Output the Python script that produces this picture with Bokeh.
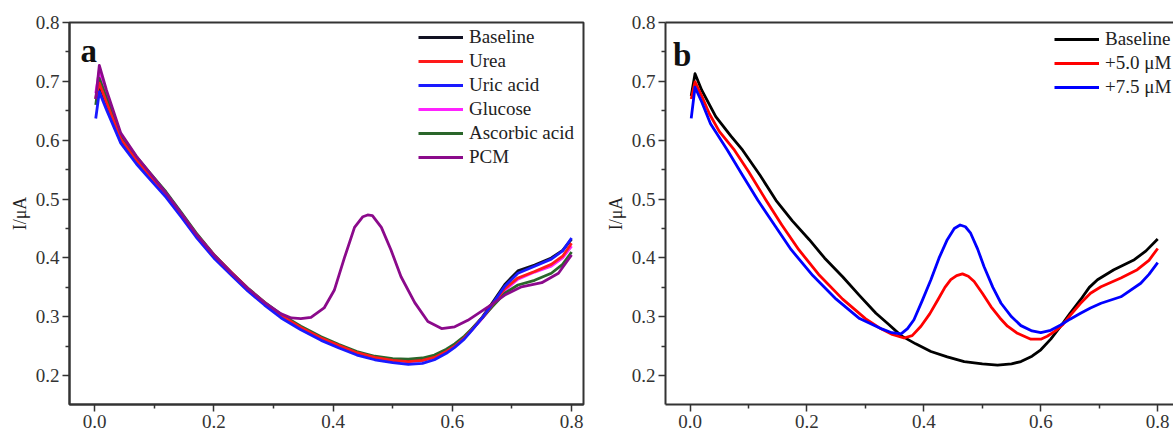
from bokeh.plotting import figure
from bokeh.layouts import row
from bokeh.models import Legend, LegendItem, Label, LinearAxis, FixedTicker, Range1d, PrintfTickFormatter
from bokeh.embed import file_html
from bokeh.resources import INLINE

# ---------------- data: panel a (interference study) ----------------
xa = [0.002, 0.008, 0.02, 0.044, 0.07, 0.09, 0.12, 0.145, 0.17, 0.2, 0.23, 0.257, 0.285, 0.313,
      0.346, 0.38, 0.41, 0.44, 0.47, 0.5, 0.526, 0.55, 0.57, 0.59, 0.604, 0.62, 0.632, 0.65,
      0.666, 0.688, 0.71, 0.738, 0.766, 0.785, 0.80]
baseline_a = [0.670, 0.692, 0.662, 0.600, 0.564, 0.541, 0.506, 0.473, 0.439, 0.403, 0.373, 0.347,
              0.323, 0.301, 0.281, 0.264, 0.251, 0.239, 0.231, 0.227, 0.225, 0.227, 0.232, 0.242,
              0.251, 0.265, 0.278, 0.299, 0.322, 0.355, 0.378, 0.388, 0.400, 0.413, 0.432]
urea_a = [0.672, 0.697, 0.664, 0.602, 0.566, 0.543, 0.508, 0.475, 0.441, 0.405, 0.375, 0.348,
          0.324, 0.302, 0.282, 0.264, 0.251, 0.239, 0.231, 0.226, 0.224, 0.226, 0.231, 0.241,
          0.250, 0.264, 0.277, 0.298, 0.319, 0.348, 0.366, 0.377, 0.389, 0.403, 0.425]
uric_a = [0.637, 0.682, 0.652, 0.595, 0.560, 0.537, 0.503, 0.470, 0.436, 0.400, 0.370, 0.344,
          0.320, 0.298, 0.278, 0.260, 0.247, 0.235, 0.227, 0.222, 0.219, 0.221, 0.227, 0.238,
          0.248, 0.262, 0.276, 0.298, 0.320, 0.352, 0.374, 0.386, 0.398, 0.412, 0.434]
glucose_a = [0.680, 0.718, 0.672, 0.606, 0.569, 0.545, 0.509, 0.476, 0.441, 0.405, 0.374, 0.348,
             0.324, 0.302, 0.282, 0.264, 0.251, 0.239, 0.231, 0.226, 0.224, 0.226, 0.232, 0.242,
             0.251, 0.265, 0.277, 0.297, 0.317, 0.345, 0.364, 0.376, 0.386, 0.400, 0.420]
ascorbic_a = [0.660, 0.705, 0.672, 0.608, 0.572, 0.548, 0.512, 0.478, 0.443, 0.406, 0.375, 0.349,
              0.325, 0.304, 0.284, 0.266, 0.253, 0.241, 0.233, 0.229, 0.228, 0.230, 0.235, 0.245,
              0.254, 0.267, 0.279, 0.298, 0.316, 0.340, 0.354, 0.362, 0.374, 0.389, 0.410]
xa_pcm = [0.002, 0.008, 0.02, 0.044, 0.07, 0.09, 0.12, 0.145, 0.17, 0.2, 0.23, 0.257, 0.285, 0.313,
          0.33, 0.346, 0.363, 0.385, 0.402, 0.419, 0.436, 0.45, 0.458, 0.466, 0.481, 0.497, 0.514,
          0.537, 0.559, 0.582, 0.604, 0.626, 0.66, 0.688, 0.716, 0.75, 0.778, 0.80]
pcm_a = [0.670, 0.727, 0.685, 0.612, 0.573, 0.548, 0.510, 0.476, 0.441, 0.405, 0.374, 0.348,
         0.324, 0.305, 0.298, 0.297, 0.299, 0.315, 0.345, 0.400, 0.452, 0.470, 0.473, 0.472,
         0.452, 0.414, 0.368, 0.324, 0.292, 0.280, 0.283, 0.294, 0.317, 0.337, 0.351, 0.358,
         0.374, 0.405]

# ---------------- data: panel b (PCM additions) ----------------
xb_base = [0.002, 0.0085, 0.02, 0.044, 0.07, 0.09, 0.12, 0.147, 0.175, 0.204, 0.23, 0.261, 0.29,
           0.318, 0.34, 0.361, 0.386, 0.412, 0.44, 0.469, 0.5, 0.526, 0.55, 0.566, 0.585, 0.60,
           0.617, 0.634, 0.65, 0.668, 0.683, 0.697, 0.725, 0.76, 0.78, 0.80]
baseline_b = [0.675, 0.713, 0.685, 0.640, 0.607, 0.583, 0.540, 0.498, 0.463, 0.431, 0.400, 0.368,
              0.336, 0.306, 0.287, 0.268, 0.254, 0.241, 0.232, 0.224, 0.220, 0.218, 0.220, 0.224,
              0.233, 0.244, 0.262, 0.284, 0.306, 0.329, 0.350, 0.363, 0.380, 0.397, 0.412, 0.432]
xb_5 = [0.002, 0.0085, 0.02, 0.033, 0.05, 0.076, 0.10, 0.13, 0.157, 0.186, 0.22, 0.261, 0.30,
        0.326, 0.346, 0.366, 0.38, 0.395, 0.41, 0.424, 0.436, 0.446, 0.456, 0.466, 0.476, 0.486,
        0.50, 0.515, 0.53, 0.543, 0.56, 0.583, 0.60, 0.611, 0.625, 0.637, 0.65, 0.668, 0.685,
        0.703, 0.737, 0.765, 0.785, 0.80]
pcm5_b = [0.670, 0.699, 0.675, 0.645, 0.615, 0.583, 0.547, 0.498, 0.456, 0.414, 0.372, 0.330,
          0.297, 0.280, 0.270, 0.264, 0.268, 0.284, 0.305, 0.329, 0.350, 0.363, 0.370, 0.373,
          0.369, 0.360, 0.340, 0.317, 0.298, 0.284, 0.272, 0.262, 0.262, 0.267, 0.276, 0.286,
          0.302, 0.323, 0.340, 0.351, 0.366, 0.380, 0.396, 0.416]
xb_75 = [0.002, 0.0085, 0.02, 0.035, 0.064, 0.09, 0.116, 0.145, 0.173, 0.21, 0.25, 0.29, 0.329,
         0.345, 0.361, 0.372, 0.383, 0.397, 0.412, 0.426, 0.44, 0.452, 0.462, 0.471, 0.48, 0.492,
         0.503, 0.518, 0.532, 0.55, 0.566, 0.585, 0.60, 0.617, 0.634, 0.65, 0.668, 0.685, 0.703,
         0.737, 0.771, 0.785, 0.80]
pcm75_b = [0.637, 0.690, 0.665, 0.628, 0.583, 0.540, 0.498, 0.455, 0.414, 0.370, 0.330, 0.297,
           0.279, 0.273, 0.271, 0.280, 0.295, 0.327, 0.363, 0.400, 0.431, 0.450, 0.456, 0.453,
           0.442, 0.415, 0.385, 0.350, 0.323, 0.300, 0.285, 0.276, 0.273, 0.277, 0.286, 0.296,
           0.306, 0.315, 0.323, 0.334, 0.357, 0.372, 0.392]

x_ticks = [0.0, 0.2, 0.4, 0.6, 0.8]
x_minor = [0.1, 0.3, 0.5, 0.7]
y_ticks = [0.2, 0.3, 0.4, 0.5, 0.6, 0.7, 0.8]
y_minor = [0.25, 0.35, 0.45, 0.55, 0.65, 0.75]

SERIF = "Liberation Serif"
AX = "#333333"
H = 436


def make_fig(width, border_left, border_right, x_end):
    p = figure(width=width, height=H, output_backend="svg", toolbar_location=None,
               x_range=Range1d(-0.042, x_end), y_range=Range1d(0.151, 0.8),
               min_border_left=border_left, min_border_right=border_right,
               min_border_top=22, min_border_bottom=32)
    p.grid.visible = False
    p.background_fill_color = "white"
    p.border_fill_color = "white"
    p.xaxis.ticker = FixedTicker(ticks=x_ticks, minor_ticks=x_minor)
    p.yaxis.ticker = FixedTicker(ticks=y_ticks, minor_ticks=y_minor)
    for ax in (p.xaxis[0], p.yaxis[0]):
        ax.formatter = PrintfTickFormatter(format="%.1f")
        ax.axis_line_color = AX
        ax.axis_line_width = 2
        ax.major_tick_line_color = AX
        ax.major_tick_line_width = 1.5
        ax.minor_tick_line_color = AX
        ax.minor_tick_line_width = 1.5
        ax.major_tick_in = 0
        ax.major_tick_out = 7
        ax.minor_tick_in = 0
        ax.minor_tick_out = 4
        ax.major_label_text_font = SERIF
        ax.major_label_text_font_size = "19px"
        ax.major_label_text_color = AX
        ax.major_label_standoff = 3
    p.yaxis.axis_label = "I/μA"
    p.yaxis.axis_label_text_font = SERIF
    p.yaxis.axis_label_text_font_size = "18px"
    p.yaxis.axis_label_text_font_style = "normal"
    p.yaxis.axis_label_text_color = "#222222"
    p.yaxis.axis_label_standoff = 3
    return p


def legend_for(p, items, loc):
    lg = Legend(items=items, location=loc, padding=0, margin=0, spacing=2,
                glyph_width=45, glyph_height=22, label_height=22, label_standoff=6,
                border_line_color=None, background_fill_alpha=0,
                label_text_font=SERIF, label_text_font_size="19px", label_text_color="#222222")
    p.add_layout(lg)


LW = 2.8

# ---------------- panel a ----------------
pa = make_fig(590, 69, 7, 0.82)
pa.outline_line_color = AX
pa.outline_line_width = 2
pa.outline_line_alpha = 1

r_glu = pa.line(xa, glucose_a, line_color="#ff22ff", line_width=LW, line_join="round")
r_base = pa.line(xa, baseline_a, line_color="#111122", line_width=LW, line_join="round")
r_asc = pa.line(xa, ascorbic_a, line_color="#2a662a", line_width=LW, line_join="round")
r_urea = pa.line(xa, urea_a, line_color="#ff1a1a", line_width=LW, line_join="round")
r_uric = pa.line(xa, uric_a, line_color="#1a1aff", line_width=LW, line_join="round")
r_pcm = pa.line(xa_pcm, pcm_a, line_color="#8b0a8b", line_width=LW, line_join="round")

legend_for(pa, [LegendItem(label="Baseline", renderers=[r_base]),
                LegendItem(label="Urea", renderers=[r_urea]),
                LegendItem(label="Uric acid", renderers=[r_uric]),
                LegendItem(label="Glucose", renderers=[r_glu]),
                LegendItem(label="Ascorbic acid", renderers=[r_asc]),
                LegendItem(label="PCM", renderers=[r_pcm])], (349, 236))

pa.add_layout(Label(x=-0.0235, y=0.752, text="a", text_font=SERIF, text_font_size="33px",
                    text_font_style="bold", text_color="#111111", text_baseline="alphabetic"))

# ---------------- panel b ----------------
pb = make_fig(583, 75, 0, 0.827)
pb.outline_line_color = None
top_axis = LinearAxis(ticker=FixedTicker(ticks=[]), axis_line_color=AX, axis_line_width=2,
                      major_tick_out=0, minor_tick_out=0, major_label_text_font_size="0px")
pb.add_layout(top_axis, "above")

rb_base = pb.line(xb_base, baseline_b, line_color="#000000", line_width=LW, line_join="round")
rb_5 = pb.line(xb_5, pcm5_b, line_color="#ff0000", line_width=LW, line_join="round")
rb_75 = pb.line(xb_75, pcm75_b, line_color="#0000ff", line_width=LW, line_join="round")

legend_for(pb, [LegendItem(label="Baseline", renderers=[rb_base]),
                LegendItem(label="+5.0 μM", renderers=[rb_5]),
                LegendItem(label="+7.5 μM", renderers=[rb_75])], (389, 306))

pb.add_layout(Label(x=-0.029, y=0.745, text="b", text_font=SERIF, text_font_size="33px",
                    text_font_style="bold", text_color="#111111", text_baseline="alphabetic"))

layout = row(pa, pb)
open("out.html", "w").write(file_html(layout, INLINE))
